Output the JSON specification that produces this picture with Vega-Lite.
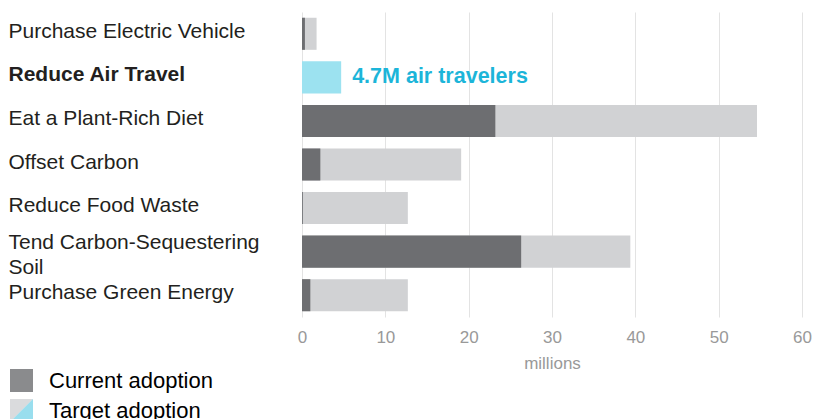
{
  "$schema": "https://vega.github.io/schema/vega-lite/v6.json",
  "width": 500,
  "height": 305,
  "autosize": {"type": "none"},
  "padding": {"left": 302, "top": 12, "right": 13, "bottom": 102},
  "background": "white",
  "config": {
    "view": {"stroke": null},
    "font": "Liberation Sans"
  },
  "data": {
    "values": [
      {"cat": "Purchase Electric Vehicle", "series": "Target adoption", "value": 1.75},
      {"cat": "Reduce Air Travel", "series": "Target air", "value": 4.7},
      {"cat": "Eat a Plant-Rich Diet", "series": "Target adoption", "value": 54.6},
      {"cat": "Offset Carbon", "series": "Target adoption", "value": 19.1},
      {"cat": "Reduce Food Waste", "series": "Target adoption", "value": 12.7},
      {"cat": "Tend Carbon-Sequestering Soil", "series": "Target adoption", "value": 39.4},
      {"cat": "Purchase Green Energy", "series": "Target adoption", "value": 12.7},
      {"cat": "Purchase Electric Vehicle", "series": "Current adoption", "value": 0.35},
      {"cat": "Eat a Plant-Rich Diet", "series": "Current adoption", "value": 23.2},
      {"cat": "Offset Carbon", "series": "Current adoption", "value": 2.2},
      {"cat": "Reduce Food Waste", "series": "Current adoption", "value": 0.1},
      {"cat": "Tend Carbon-Sequestering Soil", "series": "Current adoption", "value": 26.3},
      {"cat": "Purchase Green Energy", "series": "Current adoption", "value": 1.0}
    ]
  },
  "encoding": {
    "y": {
      "field": "cat",
      "type": "nominal",
      "sort": ["Purchase Electric Vehicle", "Reduce Air Travel", "Eat a Plant-Rich Diet", "Offset Carbon", "Reduce Food Waste", "Tend Carbon-Sequestering Soil", "Purchase Green Energy"],
      "scale": {"paddingInner": 0.264, "paddingOuter": 0.132},
      "axis": {
        "title": null,
        "ticks": false,
        "domain": false,
        "labelAlign": "left",
        "labelPadding": 294,
        "labelFontSize": 21,
        "labelColor": "#231f20",
        "labelLimit": 300,
        "labelLineHeight": 25,
        "labelOffset": {"condition": {"test": "datum.value == 'Tend Carbon-Sequestering Soil'", "value": -9}, "value": -2},
        "labelFontWeight": {"condition": {"test": "datum.value == 'Reduce Air Travel'", "value": "bold"}, "value": "normal"},
        "labelExpr": "datum.value == 'Tend Carbon-Sequestering Soil' ? ['Tend Carbon-Sequestering', 'Soil'] : datum.value"
      }
    }
  },
  "layer": [
    {
      "mark": {"type": "bar"},
      "encoding": {
        "x": {
          "field": "value",
          "type": "quantitative",
          "stack": null,
          "scale": {"domain": [0, 60], "nice": false},
          "axis": {
            "values": [0, 10, 20, 30, 40, 50, 60],
            "title": "millions",
            "titleFontSize": 17,
            "titleFontWeight": "normal",
            "titleColor": "#999999",
            "titlePadding": 10,
            "labelFontSize": 17,
            "labelColor": "#999999",
            "labelPadding": 12,
            "labelFlush": false,
            "ticks": false,
            "domain": false,
            "grid": true,
            "gridColor": "#e3e3e3",
            "gridWidth": 1
          }
        },
        "color": {
          "field": "series",
          "type": "nominal",
          "scale": {"domain": ["Current adoption", "Target adoption", "Target air"], "range": ["#6d6e71", "#d1d2d4", "#9ce2f0"]},
          "legend": {
            "values": ["Current adoption", "Target adoption"],
            "title": null,
            "orient": "none",
            "legendX": -292,
            "legendY": 357,
            "padding": 0,
            "symbolType": "square",
            "symbolSize": 529,
            "symbolStrokeWidth": 0,
            "symbolOpacity": 0.8,
            "labelFontSize": 22,
            "labelColor": "#000000",
            "labelOffset": 16,
            "rowPadding": 7,
            "labelLimit": 300,
            "encode": {
              "symbols": {
                "update": {
                  "shape": {"signal": "datum.value == 'Target adoption' ? 'M-1,-1L1,-1L-1,1Z' : 'square'"}
                }
              }
            }
          }
        }
      }
    },
    {
      "transform": [{"filter": "datum.series == 'Target air'"}, {"calculate": "'hl'", "as": "hl"}],
      "mark": {"type": "text", "align": "left", "baseline": "middle", "dx": 11, "fontSize": 21.5, "fontWeight": "bold"},
      "encoding": {
        "x": {"field": "value", "type": "quantitative"},
        "text": {"value": "4.7M air travelers"},
        "color": {
          "field": "hl",
          "type": "nominal",
          "scale": {"domain": ["hl"], "range": ["#1cb5d9"]},
          "legend": {
            "title": null,
            "orient": "none",
            "legendX": -292,
            "legendY": 387,
            "padding": 0,
            "symbolSize": 529,
            "symbolStrokeWidth": 0,
            "symbolOpacity": 0.45,
            "labelExpr": "''",
            "labelFontSize": 20,
            "encode": {
              "symbols": {
                "update": {
                  "shape": {"value": "M1,-1L1,1L-1,1Z"}
                }
              }
            }
          }
        }
      }
    }
  ],
  "resolve": {"scale": {"color": "independent"}}
}
